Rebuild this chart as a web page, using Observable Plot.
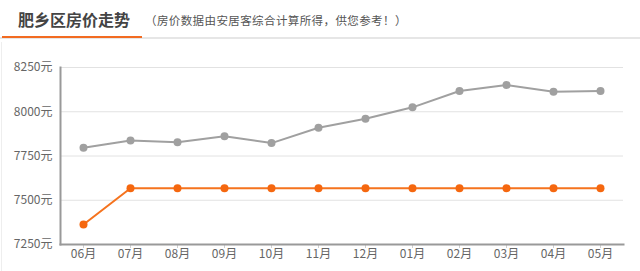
<!DOCTYPE html>
<html><head><meta charset="utf-8">
<script src="https://cdn.jsdelivr.net/npm/d3@7"></script>
<script src="https://cdn.jsdelivr.net/npm/@observablehq/plot@0.6"></script>
<style>
html,body{margin:0;padding:0;background:#fff;font-family:"Noto Sans CJK SC","Noto Sans",sans-serif;}
#wrap{width:640px;height:271px;position:relative;overflow:hidden;}
#head{position:relative;height:45px;}
#title{position:absolute;left:18px;top:8px;font-size:16px;font-weight:bold;color:#444;line-height:22px;white-space:nowrap;}
#sub{position:absolute;left:145px;top:10px;font-size:11.5px;letter-spacing:0.4px;color:#555;line-height:20px;white-space:nowrap;}
#gline{position:absolute;left:0;top:37px;width:640px;height:2px;background:#e6e6e6;}
#oline{position:absolute;left:2px;top:36px;width:140px;height:2px;background:#f26b21;}
#lb{position:absolute;left:1px;top:42px;width:1px;height:229px;background:#eeeeee;}
#chart svg{display:block;}
</style></head>
<body>
<div id="wrap">
<div id="head">
<div id="title">肥乡区房价走势</div>
<div id="sub">（房价数据由安居客综合计算所得，供您参考！）</div>
<div id="gline"></div><div id="oline"></div>
</div>
<div id="lb"></div>
<div id="chart"></div>
</div>
<script>
const months = ["06月","07月","08月","09月","10月","11月","12月","01月","02月","03月","04月","05月"];
const cityPrice = [7797,7837,7828,7862,7823,7910,7961,8025,8117,8151,8113,8117];
const districtPrice = [7363,7568,7568,7568,7568,7568,7568,7568,7568,7568,7568,7568];
const yTicks = [7250,7500,7750,8000,8250];

const gray = months.map((m,i)=>({m, v: cityPrice[i]}));
const orange = months.map((m,i)=>({m, v: districtPrice[i]}));

const chart = Plot.plot({
  width: 640, height: 226,
  marginLeft: 60, marginRight: 17, marginTop: 22, marginBottom: 27,
  style: {fontFamily: '"Noto Sans CJK SC","Noto Sans",sans-serif', fontSize: "12px", background: "#fff"},
  x: {type: "point", domain: months, padding: 0.465},
  y: {domain: [7250, 8250]},
  marks: [
    Plot.ruleY(yTicks, {stroke: "#e2e2e2", strokeWidth: 1}),
    Plot.axisY({ticks: yTicks, tickSize: 0, tickPadding: 8, tickFormat: d => d + "元", fill: "#666", label: null}),
    Plot.axisX({tickSize: 4, tickPadding: 1, stroke: "#d0d0d0", fill: "#666", label: null}),
    Plot.frame({anchor: "left", stroke: "#999", strokeWidth: 2}),
    Plot.frame({anchor: "bottom", stroke: "#999", strokeWidth: 2}),
    Plot.line(gray, {x: "m", y: "v", stroke: "#a0a0a0", strokeWidth: 2}),
    Plot.dot(gray, {x: "m", y: "v", r: 4, fill: "#a0a0a0"}),
    Plot.line(orange, {x: "m", y: "v", stroke: "#f5731e", strokeWidth: 2}),
    Plot.dot(orange, {x: "m", y: "v", r: 4, fill: "#f5670f"})
  ]
});
document.getElementById("chart").appendChild(chart);
</script>
</body></html>
